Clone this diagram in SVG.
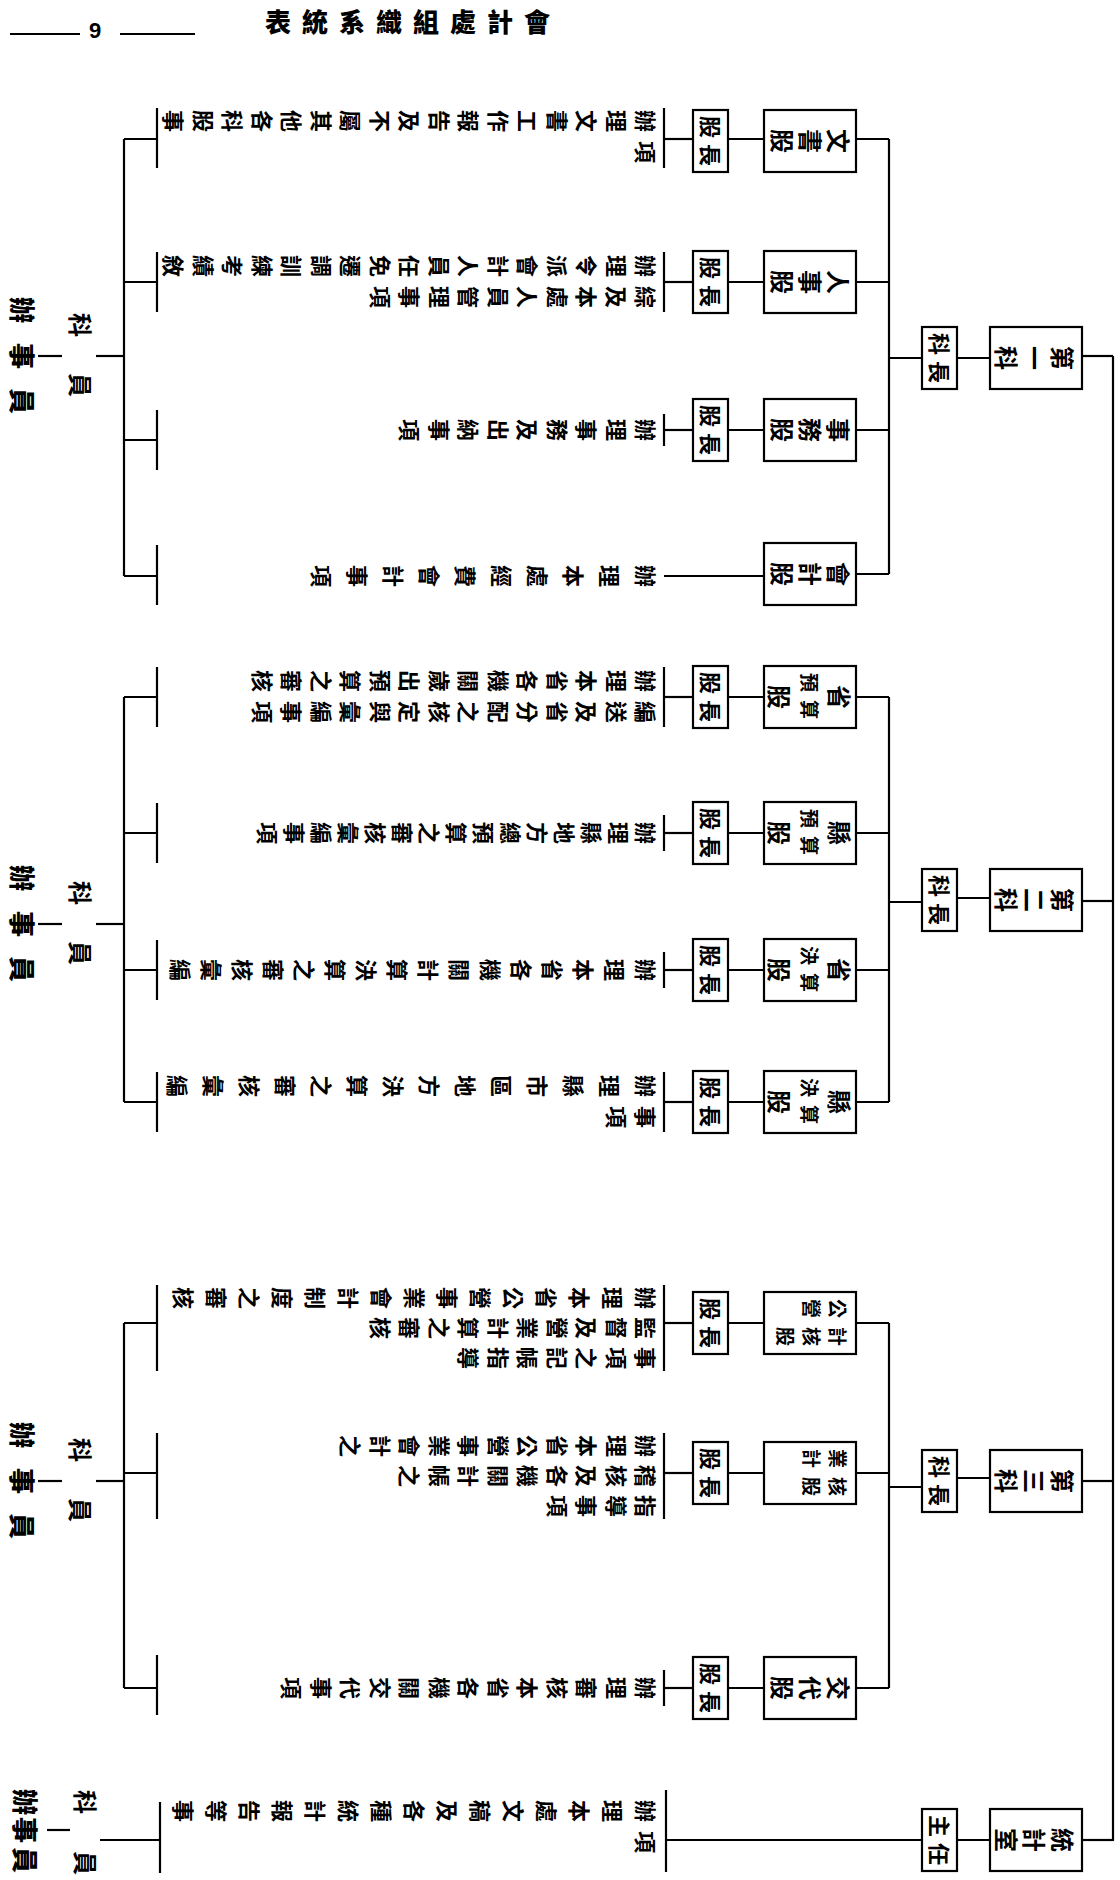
<svg xmlns="http://www.w3.org/2000/svg" width="1120" height="1880" viewBox="0 0 1120 1880">
<style>
.ln{stroke:#000;stroke-width:2.2;fill:none}
.bx{fill:none;stroke:#000;stroke-width:2.2}
.t{font-family:"Noto Sans CJK TC","Noto Sans CJK SC",sans-serif;font-size:22px;font-weight:700;fill:#000}
.ts{font-family:"Noto Sans CJK TC","Noto Sans CJK SC",sans-serif;font-size:19px;font-weight:700;fill:#000}
.tb{font-family:"Noto Sans CJK TC","Noto Sans CJK SC",sans-serif;font-size:24px;font-weight:700;fill:#000}
.tl{font-family:"Noto Sans CJK TC","Noto Sans CJK SC",sans-serif;font-size:26px;font-weight:900;fill:#000}
</style>
<rect width="1120" height="1880" fill="#fff"/>
<g id="header">
<line class="ln" x1="10" y1="34" x2="80" y2="34" stroke-width="3"/>
<text x="89" y="38" font-family="Liberation Sans, sans-serif" font-size="22" font-weight="bold">9</text>
<line class="ln" x1="120" y1="34" x2="195" y2="34" stroke-width="3"/>
<text class="tl" x="524 487 450 413 376 339 302 265" y="32">會計處組織系統表</text>
</g>
<g id="connectors">
<line class="ln" x1="1113" y1="356" x2="1113" y2="1841"/>
<line class="ln" x1="1082" y1="356" x2="1113" y2="356"/>
<line class="ln" x1="957" y1="358" x2="990" y2="358"/>
<line class="ln" x1="889" y1="358" x2="922" y2="358"/>
<line class="ln" x1="889" y1="139" x2="889" y2="574"/>
<line class="ln" x1="856" y1="139" x2="889" y2="139"/>
<line class="ln" x1="856" y1="282" x2="889" y2="282"/>
<line class="ln" x1="856" y1="430" x2="889" y2="430"/>
<line class="ln" x1="856" y1="574" x2="889" y2="574"/>
<line class="ln" x1="728" y1="139" x2="764" y2="139"/>
<line class="ln" x1="728" y1="282" x2="764" y2="282"/>
<line class="ln" x1="728" y1="430" x2="764" y2="430"/>
<line class="ln" x1="664" y1="139" x2="693" y2="139"/>
<line class="ln" x1="664" y1="282" x2="693" y2="282"/>
<line class="ln" x1="664" y1="430" x2="693" y2="430"/>
<line class="ln" x1="664" y1="576" x2="764" y2="576"/>
<line class="ln" x1="664" y1="108" x2="664" y2="168"/>
<line class="ln" x1="664" y1="252" x2="664" y2="312"/>
<line class="ln" x1="664" y1="414" x2="664" y2="446"/>
<line class="ln" x1="157" y1="108" x2="157" y2="168"/>
<line class="ln" x1="157" y1="252" x2="157" y2="312"/>
<line class="ln" x1="157" y1="410" x2="157" y2="470"/>
<line class="ln" x1="157" y1="545" x2="157" y2="605"/>
<line class="ln" x1="124" y1="139" x2="157" y2="139"/>
<line class="ln" x1="124" y1="282" x2="157" y2="282"/>
<line class="ln" x1="124" y1="440" x2="157" y2="440"/>
<line class="ln" x1="124" y1="576" x2="157" y2="576"/>
<line class="ln" x1="124" y1="139" x2="124" y2="576"/>
<line class="ln" x1="96" y1="356" x2="124" y2="356"/>
<line class="ln" x1="38" y1="356" x2="62" y2="356"/>

<line class="ln" x1="1082" y1="901" x2="1113" y2="901"/>
<line class="ln" x1="957" y1="898" x2="990" y2="898"/>
<line class="ln" x1="889" y1="902" x2="922" y2="902"/>
<line class="ln" x1="889" y1="697" x2="889" y2="1102"/>
<line class="ln" x1="856" y1="697" x2="889" y2="697"/>
<line class="ln" x1="856" y1="833" x2="889" y2="833"/>
<line class="ln" x1="856" y1="970" x2="889" y2="970"/>
<line class="ln" x1="856" y1="1102" x2="889" y2="1102"/>
<line class="ln" x1="728" y1="697" x2="764" y2="697"/>
<line class="ln" x1="728" y1="833" x2="764" y2="833"/>
<line class="ln" x1="728" y1="970" x2="764" y2="970"/>
<line class="ln" x1="728" y1="1102" x2="764" y2="1102"/>
<line class="ln" x1="664" y1="697" x2="693" y2="697"/>
<line class="ln" x1="664" y1="833" x2="693" y2="833"/>
<line class="ln" x1="664" y1="970" x2="693" y2="970"/>
<line class="ln" x1="664" y1="1102" x2="693" y2="1102"/>
<line class="ln" x1="664" y1="667" x2="664" y2="727"/>
<line class="ln" x1="664" y1="815" x2="664" y2="851"/>
<line class="ln" x1="664" y1="952" x2="664" y2="988"/>
<line class="ln" x1="664" y1="1072" x2="664" y2="1132"/>
<line class="ln" x1="157" y1="667" x2="157" y2="727"/>
<line class="ln" x1="157" y1="803" x2="157" y2="863"/>
<line class="ln" x1="157" y1="940" x2="157" y2="1000"/>
<line class="ln" x1="157" y1="1072" x2="157" y2="1132"/>
<line class="ln" x1="124" y1="697" x2="157" y2="697"/>
<line class="ln" x1="124" y1="833" x2="157" y2="833"/>
<line class="ln" x1="124" y1="970" x2="157" y2="970"/>
<line class="ln" x1="124" y1="1102" x2="157" y2="1102"/>
<line class="ln" x1="124" y1="697" x2="124" y2="1102"/>
<line class="ln" x1="96" y1="924" x2="124" y2="924"/>
<line class="ln" x1="38" y1="924" x2="62" y2="924"/>

<line class="ln" x1="1082" y1="1481" x2="1113" y2="1481"/>
<line class="ln" x1="957" y1="1478" x2="990" y2="1478"/>
<line class="ln" x1="889" y1="1487" x2="922" y2="1487"/>
<line class="ln" x1="889" y1="1323" x2="889" y2="1688"/>
<line class="ln" x1="856" y1="1323" x2="889" y2="1323"/>
<line class="ln" x1="856" y1="1473" x2="889" y2="1473"/>
<line class="ln" x1="856" y1="1688" x2="889" y2="1688"/>
<line class="ln" x1="728" y1="1323" x2="764" y2="1323"/>
<line class="ln" x1="728" y1="1473" x2="764" y2="1473"/>
<line class="ln" x1="728" y1="1688" x2="764" y2="1688"/>
<line class="ln" x1="664" y1="1323" x2="693" y2="1323"/>
<line class="ln" x1="664" y1="1473" x2="693" y2="1473"/>
<line class="ln" x1="664" y1="1688" x2="693" y2="1688"/>
<line class="ln" x1="664" y1="1285" x2="664" y2="1371"/>
<line class="ln" x1="664" y1="1433" x2="664" y2="1519"/>
<line class="ln" x1="664" y1="1670" x2="664" y2="1706"/>
<line class="ln" x1="157" y1="1285" x2="157" y2="1371"/>
<line class="ln" x1="157" y1="1433" x2="157" y2="1519"/>
<line class="ln" x1="157" y1="1655" x2="157" y2="1715"/>
<line class="ln" x1="124" y1="1323" x2="157" y2="1323"/>
<line class="ln" x1="124" y1="1473" x2="157" y2="1473"/>
<line class="ln" x1="124" y1="1688" x2="157" y2="1688"/>
<line class="ln" x1="124" y1="1323" x2="124" y2="1688"/>
<line class="ln" x1="96" y1="1481" x2="124" y2="1481"/>
<line class="ln" x1="38" y1="1481" x2="62" y2="1481"/>

<line class="ln" x1="1082" y1="1840" x2="1113" y2="1840"/>
<line class="ln" x1="957" y1="1840" x2="990" y2="1840"/>
<line class="ln" x1="666" y1="1840" x2="922" y2="1840"/>
<line class="ln" x1="666" y1="1790" x2="666" y2="1872"/>
<line class="ln" x1="160" y1="1802" x2="160" y2="1873"/>
<line class="ln" x1="100" y1="1840" x2="160" y2="1840"/>
<line class="ln" x1="47" y1="1830" x2="70" y2="1830"/>
</g>

<g id="sec1">
<g id="n-ke1"><rect class="bx" x="990" y="327" width="92" height="62"/><text class="tb" x="1053 1025 997" y="346" rotate="90">第一科</text></g>
<g id="n-kz1"><rect class="bx" x="922" y="327" width="35" height="62"/><text class="t" x="931 931" y="333 361" rotate="90">科長</text></g>
<g id="n-g11"><rect class="bx" x="764" y="110" width="92" height="62"/><text class="tb" x="829 801 773" y="129" rotate="90">文書股</text></g>
<g id="n-gz11"><rect class="bx" x="693" y="110" width="35" height="62"/><text class="t" x="702 702" y="116 144" rotate="90">股長</text></g>
<g id="d11"><text class="t" x="637 607.5 578 548.5 519 489.5 460 430.5 401 371.5 342 312.5 283 253.5 224 194.5 165" y="110" rotate="90">辦理文書工作報告及不屬其他各科股事</text><text class="t" x="637" y="141" rotate="90">項</text></g>
<g id="n-g12"><rect class="bx" x="764" y="251" width="92" height="62"/><text class="tb" x="829 801 773" y="270" rotate="90">人事股</text></g>
<g id="n-gz12"><rect class="bx" x="693" y="251" width="35" height="62"/><text class="t" x="702 702" y="257 285" rotate="90">股長</text></g>
<g id="d12"><text class="t" x="637 607.5 578 548.5 519 489.5 460 430.5 401 371.5 342 312.5 283 253.5 224 194.5 165" y="255" rotate="90">辦理令派會計人員任免遷調訓練考績敘</text><text class="t" x="637 607.5 578 548.5 519 489.5 460 430.5 401 371.5" y="286" rotate="90">綜及本處人員管理事項</text></g>
<g id="n-g13"><rect class="bx" x="764" y="399" width="92" height="62"/><text class="tb" x="829 801 773" y="418" rotate="90">事務股</text></g>
<g id="n-gz13"><rect class="bx" x="693" y="399" width="35" height="62"/><text class="t" x="702 702" y="405 433" rotate="90">股長</text></g>
<g id="d13"><text class="t" x="637 607.5 578 548.5 519 489.5 460 430.5 401" y="419" rotate="90">辦理事務及出納事項</text></g>
<g id="n-g14"><rect class="bx" x="764" y="543" width="92" height="62"/><text class="tb" x="829 801 773" y="562" rotate="90">會計股</text></g>
<g id="d14"><text class="t" x="637 601 565 529 493 457 421 385 349 313" y="565" rotate="90">辦理本處經費會計事項</text></g>
<g id="lab1"><text class="tb" x="71 71" y="313 373" rotate="90">科員</text><text class="tl" x="12 12 12" y="297 343 388" rotate="90">辦事員</text></g>
</g>

<g id="sec2">
<g id="n-ke2"><rect class="bx" x="990" y="869" width="92" height="62"/><text class="tb" x="1053 1025 997" y="888" rotate="90">第二科</text></g>
<g id="n-kz2"><rect class="bx" x="922" y="869" width="35" height="62"/><text class="t" x="931 931" y="875 903" rotate="90">科長</text></g>
<g id="n-g21"><rect class="bx" x="764" y="666" width="92" height="62"/><text class="tb" x="830" y="685" rotate="90">省</text><text class="ts" x="802" y="673" rotate="90">預</text><text class="ts" x="802" y="700" rotate="90">算</text><text class="tb" x="770" y="685" rotate="90">股</text></g>
<g id="n-gz21"><rect class="bx" x="693" y="666" width="35" height="62"/><text class="t" x="702 702" y="672 700" rotate="90">股長</text></g>
<g id="d21"><text class="t" x="637 607.5 578 548.5 519 489.5 460 430.5 401 371.5 342 312.5 283 253.5 224 194.5" y="670" rotate="90">辦理本省各機關歲出預算之審核</text><text class="t" x="637 607.5 578 548.5 519 489.5 460 430.5 401 371.5 342 312.5 283 253.5 224 194.5" y="701" rotate="90">編送及省分配之核定與彙編事項</text></g>
<g id="n-g22"><rect class="bx" x="764" y="802" width="92" height="62"/><text class="tb" x="830" y="821" rotate="90">縣</text><text class="ts" x="802" y="809" rotate="90">預</text><text class="ts" x="802" y="836" rotate="90">算</text><text class="tb" x="770" y="821" rotate="90">股</text></g>
<g id="n-gz22"><rect class="bx" x="693" y="802" width="35" height="62"/><text class="t" x="702 702" y="808 836" rotate="90">股長</text></g>
<g id="d22"><text class="t" x="637 610 583 556 529 502 475 448 421 394 367 340 313 286 259" y="822" rotate="90">辦理縣地方總預算之審核彙編事項</text></g>
<g id="n-g23"><rect class="bx" x="764" y="939" width="92" height="62"/><text class="tb" x="830" y="958" rotate="90">省</text><text class="ts" x="802" y="946" rotate="90">決</text><text class="ts" x="802" y="973" rotate="90">算</text><text class="tb" x="770" y="958" rotate="90">股</text></g>
<g id="n-gz23"><rect class="bx" x="693" y="939" width="35" height="62"/><text class="t" x="702 702" y="945 973" rotate="90">股長</text></g>
<g id="d23"><text class="t" x="637 606 575 544 513 482 451 420 389 358 327 296 265 234 203 172" y="959" rotate="90">辦理本省各機關計算決算之審核彙編</text></g>
<g id="n-g24"><rect class="bx" x="764" y="1071" width="92" height="62"/><text class="tb" x="830" y="1090" rotate="90">縣</text><text class="ts" x="802" y="1078" rotate="90">決</text><text class="ts" x="802" y="1105" rotate="90">算</text><text class="tb" x="770" y="1090" rotate="90">股</text></g>
<g id="n-gz24"><rect class="bx" x="693" y="1071" width="35" height="62"/><text class="t" x="702 702" y="1077 1105" rotate="90">股長</text></g>
<g id="d24"><text class="t" x="637 601 565 529 493 457 421 385 349 313 277 241 205 169" y="1075" rotate="90">辦理縣市區地方決算之審核彙編</text><text class="t" x="637 607.5" y="1106" rotate="90">事項</text></g>
<g id="lab2"><text class="tb" x="71 71" y="881 941" rotate="90">科員</text><text class="tl" x="12 12 12" y="865 911 956" rotate="90">辦事員</text></g>
</g>

<g id="sec3">
<g id="n-ke3"><rect class="bx" x="990" y="1450" width="92" height="62"/><text class="tb" x="1053 1025 997" y="1469" rotate="90">第三科</text></g>
<g id="n-kz3"><rect class="bx" x="922" y="1450" width="35" height="62"/><text class="t" x="931 931" y="1456 1484" rotate="90">科長</text></g>
<g id="n-g31"><rect class="bx" x="764" y="1292" width="92" height="62"/><text class="ts" x="830 804" y="1299" rotate="90">公營</text><text class="ts" x="830 804 778" y="1327" rotate="90">計核股</text></g>
<g id="n-gz31"><rect class="bx" x="693" y="1292" width="35" height="62"/><text class="t" x="702 702" y="1298 1326" rotate="90">股長</text></g>
<g id="d31"><text class="t" x="637 604 571 538 505 472 439 406 373 340 307 274 241 208 175" y="1287" rotate="90">辦理本省公營事業會計制度之審核</text><text class="t" x="637 607.5 578 548.5 519 489.5 460 430.5 401 371.5" y="1317" rotate="90">監督及營業計算之審核</text><text class="t" x="637 607.5 578 548.5 519 489.5 460" y="1347" rotate="90">事項之記帳指導</text></g>
<g id="n-g32"><rect class="bx" x="764" y="1442" width="92" height="62"/><text class="ts" x="830 804" y="1449" rotate="90">業計</text><text class="ts" x="830 804" y="1477" rotate="90">核股</text></g>
<g id="n-gz32"><rect class="bx" x="693" y="1442" width="35" height="62"/><text class="t" x="702 702" y="1448 1476" rotate="90">股長</text></g>
<g id="d32"><text class="t" x="637 607.5 578 548.5 519 489.5 460 430.5 401 371.5 342 312.5 283" y="1435" rotate="90">辦理本省公營事業會計之</text><text class="t" x="637 607.5 578 548.5 519 489.5 460 430.5 401 371.5 342" y="1465" rotate="90">稽核及各機關計帳之</text><text class="t" x="637 607.5 578 548.5 519 489.5 460 430.5" y="1495" rotate="90">指導事項</text></g>
<g id="n-g33"><rect class="bx" x="764" y="1657" width="92" height="62"/><text class="tb" x="829 801 773" y="1676" rotate="90">交代股</text></g>
<g id="n-gz33"><rect class="bx" x="693" y="1657" width="35" height="62"/><text class="t" x="702 702" y="1663 1691" rotate="90">股長</text></g>
<g id="d33"><text class="t" x="637 607.5 578 548.5 519 489.5 460 430.5 401 371.5 342 312.5 283" y="1677" rotate="90">辦理審核本省各機關交代事項</text></g>
<g id="lab3"><text class="tb" x="71 71" y="1438 1498" rotate="90">科員</text><text class="tl" x="12 12 12" y="1422 1468 1513" rotate="90">辦事員</text></g>
</g>

<g id="sec4">
<g id="n-ke4"><rect class="bx" x="990" y="1809" width="92" height="62"/><text class="tb" x="1053 1025 997" y="1828" rotate="90">統計室</text></g>
<g id="n-kz4"><rect class="bx" x="922" y="1809" width="35" height="62"/><text class="t" x="931 931" y="1815 1843" rotate="90">主任</text></g>
<g id="d41"><text class="t" x="637 604 571 538 505 472 439 406 373 340 307 274 241 208 175" y="1800" rotate="90">辦理本處文稿及各種統計報告等事</text><text class="t" x="637" y="1831" rotate="90">項</text></g>
<g id="lab4"><text class="tb" x="76 76" y="1790 1851" rotate="90">科員</text><text class="tl" x="15 15 15" y="1789 1817 1847" rotate="90">辦事員</text></g>
</g>
</svg>
